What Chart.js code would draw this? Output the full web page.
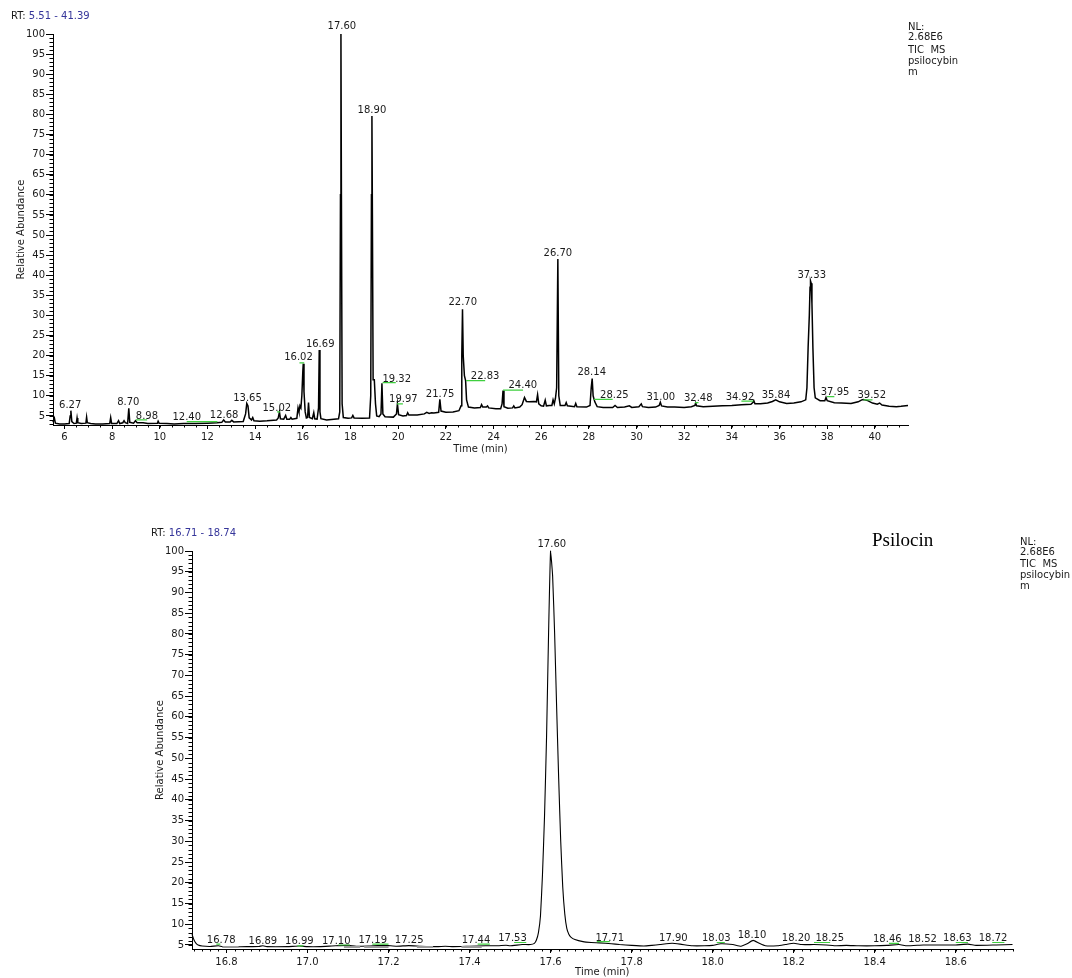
<!DOCTYPE html>
<html lang="en">
<head>
<meta charset="UTF-8">
<title>TIC MS psilocybin</title>
<script src="https://cdn.jsdelivr.net/npm/chart.js"></script>
<style>
  body { margin: 0; background: #fff; }
  #page { position: relative; width: 1072px; height: 978px; overflow: hidden; font-family: "DejaVu Sans", sans-serif; }
  canvas { position: absolute; left: 0; }
  .t { position: absolute; font-size: 10px; line-height: 12px; color: #1a1a1a; white-space: nowrap; }
  .t span { color: #35359a; }
  .name { position: absolute; font-family: "Liberation Serif", serif; font-size: 19px; line-height: 22px; color: #000; }
</style>
</head>
<body>
<div id="page">
  <canvas id="topChart" width="1072" height="460" style="top:0"></canvas>
  <canvas id="zoomChart" width="1072" height="498" style="top:480px"></canvas>

  <div class="t" style="left:11px;top:10px">RT: <span>5.51 - 41.39</span></div>
  <div class="t" style="left:908px;top:21px">NL:</div>
  <div class="t" style="left:908px;top:31px">2.68E6</div>
  <div class="t" style="left:908px;top:44px">TIC&nbsp; MS</div>
  <div class="t" style="left:908px;top:55px">psilocybin</div>
  <div class="t" style="left:908px;top:66px">m</div>

  <div class="name" style="left:872px;top:529px">Psilocin</div>

  <div class="t" style="left:151px;top:527px">RT: <span>16.71 - 18.74</span></div>
  <div class="t" style="left:1020px;top:536px">NL:</div>
  <div class="t" style="left:1020px;top:546px">2.68E6</div>
  <div class="t" style="left:1020px;top:558px">TIC&nbsp; MS</div>
  <div class="t" style="left:1020px;top:569px">psilocybin</div>
  <div class="t" style="left:1020px;top:580px">m</div>
</div>

<script>
// --- full run, 5.51 - 41.39 min : [time (min), relative abundance]
const topTrace = [
  [5.52, 3.4], [5.58, 4.4], [5.62, 3.2], [5.8, 3.0], [6.0, 3.0], [6.2, 3.1], [6.24, 5.0], [6.27, 6.3], [6.31, 3.6],
  [6.4, 3.1], [6.5, 3.2], [6.53, 4.5], [6.56, 3.3], [6.7, 3.1], [6.9, 3.2], [6.93, 4.7], [6.96, 3.3], [7.1, 3.1],
  [7.3, 3.0], [7.6, 3.0], [7.9, 3.1], [7.94, 4.6], [7.98, 3.1], [8.2, 3.1], [8.27, 3.8], [8.32, 3.1], [8.45, 3.3],
  [8.5, 3.8], [8.55, 3.3], [8.65, 3.1], [8.7, 6.9], [8.74, 3.4], [8.9, 3.2], [8.98, 3.8], [9.05, 3.3], [9.3, 3.3],
  [9.5, 3.1], [9.9, 3.2], [9.93, 3.7], [9.97, 3.2], [10.3, 3.1], [10.6, 3.0], [11.0, 3.1], [11.5, 3.1], [12.0, 3.2],
  [12.4, 3.3], [12.6, 3.4], [12.68, 4.0], [12.75, 3.5], [12.95, 3.5], [13.02, 3.9], [13.1, 3.5], [13.5, 3.6],
  [13.6, 5.5], [13.65, 8.1], [13.7, 7.5], [13.75, 4.5], [13.85, 4.0], [13.9, 4.6], [13.95, 3.8], [14.2, 3.7],
  [14.5, 3.8], [14.9, 4.0], [14.97, 4.5], [15.02, 6.0], [15.06, 4.3], [15.2, 4.2], [15.28, 5.1], [15.33, 4.2],
  [15.45, 4.2], [15.5, 4.6], [15.55, 4.2], [15.75, 4.4], [15.8, 7.0], [15.84, 6.0], [15.88, 7.5], [15.92, 7.0],
  [15.96, 10.0], [16.0, 16.0], [16.02, 18.0], [16.05, 11.0], [16.1, 6.0], [16.15, 4.5], [16.2, 4.6], [16.24, 8.3],
  [16.28, 4.6], [16.4, 4.3], [16.46, 5.8], [16.5, 4.3], [16.6, 4.2], [16.66, 7.0], [16.69, 21.4], [16.72, 6.0],
  [16.76, 4.3], [17.0, 4.0], [17.3, 4.2], [17.5, 4.3], [17.55, 6.0], [17.58, 60], [17.60, 100], [17.62, 60],
  [17.65, 8.0], [17.7, 4.6], [17.9, 4.4], [18.05, 4.5], [18.1, 5.1], [18.15, 4.5], [18.5, 4.4], [18.8, 4.5],
  [18.85, 10], [18.88, 60], [18.90, 79.6], [18.92, 55], [18.95, 14.0], [19.0, 14.0], [19.05, 8.0], [19.1, 5.0],
  [19.2, 4.8], [19.28, 5.5], [19.32, 13.1], [19.36, 5.5], [19.45, 4.8], [19.8, 4.7], [19.93, 5.5], [19.97, 8.0],
  [20.02, 5.3], [20.2, 5.0], [20.35, 5.1], [20.4, 5.8], [20.45, 5.2], [20.8, 5.2], [21.1, 5.5], [21.2, 5.9],
  [21.3, 5.6], [21.4, 5.8], [21.5, 5.7], [21.7, 5.9], [21.75, 9.1], [21.8, 6.2], [22.0, 5.9], [22.3, 6.0],
  [22.55, 6.3], [22.64, 7.5], [22.67, 20], [22.70, 31.5], [22.73, 20], [22.78, 15], [22.83, 13.8], [22.87, 9.0],
  [22.95, 7.2], [23.2, 7.0], [23.45, 7.1], [23.5, 7.8], [23.55, 7.2], [23.7, 7.2], [23.75, 7.5], [23.8, 7.0],
  [24.1, 6.8], [24.3, 6.8], [24.36, 8.0], [24.40, 11.3], [24.44, 7.3], [24.6, 6.9], [24.8, 7.0], [24.85, 7.5],
  [24.9, 7.0], [25.1, 7.2], [25.2, 7.8], [25.3, 9.6], [25.38, 8.6], [25.5, 8.5], [25.7, 8.6], [25.8, 8.5],
  [25.85, 10.3], [25.9, 8.0], [26.0, 7.5], [26.1, 7.4], [26.17, 8.9], [26.22, 7.5], [26.35, 7.6], [26.45, 7.6],
  [26.5, 9.0], [26.55, 8.0], [26.6, 9.4], [26.65, 12], [26.70, 44.0], [26.74, 10], [26.8, 7.6], [27.0, 7.6],
  [27.05, 8.3], [27.1, 7.5], [27.4, 7.3], [27.45, 8.1], [27.5, 7.3], [27.9, 7.2], [28.05, 7.6], [28.1, 12],
  [28.14, 14.3], [28.18, 10], [28.25, 8.5], [28.35, 7.3], [28.6, 7.1], [29.0, 7.1], [29.1, 7.6], [29.2, 7.1],
  [29.5, 7.2], [29.7, 7.5], [29.8, 7.1], [30.1, 7.3], [30.2, 8.0], [30.25, 7.3], [30.5, 7.1], [30.8, 7.2],
  [30.95, 7.6], [31.0, 8.4], [31.05, 7.5], [31.3, 7.2], [31.6, 7.2], [32.0, 7.1], [32.3, 7.3], [32.45, 7.6],
  [32.48, 8.2], [32.52, 7.5], [32.8, 7.3], [33.2, 7.4], [33.6, 7.5], [34.0, 7.6], [34.4, 7.8], [34.8, 7.9],
  [34.88, 8.3], [34.92, 8.8], [34.97, 8.0], [35.2, 8.0], [35.5, 8.2], [35.7, 8.6], [35.84, 9.0], [36.0, 8.5],
  [36.3, 8.1], [36.6, 8.2], [36.9, 8.5], [37.1, 9.0], [37.15, 12], [37.2, 22], [37.25, 30], [37.28, 37],
  [37.3, 38.6], [37.33, 38.0], [37.36, 33], [37.4, 22], [37.45, 12], [37.5, 9.5], [37.7, 8.8], [37.9, 8.8],
  [37.95, 9.6], [38.0, 8.8], [38.3, 8.3], [38.6, 8.2], [39.0, 8.1], [39.3, 8.5], [39.45, 9.0], [39.52, 9.1],
  [39.7, 8.8], [39.9, 8.2], [40.1, 7.9], [40.2, 8.2], [40.3, 7.7], [40.6, 7.4], [40.9, 7.3], [41.1, 7.4], [41.39, 7.6]
];

// peak labels: [text, time, abundance]
const topPeaks = [
  ['6.27', 6.24, 7.7], ['8.70', 8.68, 8.3], ['8.98', 9.46, 5.0], ['12.40', 11.13, 4.7], ['12.68', 12.70, 5.2],
  ['13.65', 13.68, 9.4], ['15.02', 14.91, 6.9], ['16.02', 15.82, 19.5], ['16.69', 16.73, 22.9],
  ['17.60', 17.64, 101.8], ['18.90', 18.90, 81.1], ['19.32', 19.94, 14.2], ['19.97', 20.22, 9.0],
  ['21.75', 21.76, 10.4], ['22.70', 22.71, 33.2], ['22.83', 23.65, 14.9], ['24.40', 25.23, 12.7],
  ['26.70', 26.70, 45.3], ['28.14', 28.12, 15.8], ['28.25', 29.07, 10.2], ['31.00', 31.02, 9.6],
  ['32.48', 32.59, 9.4], ['34.92', 34.34, 9.6], ['35.84', 35.85, 10.2], ['37.33', 37.35, 40.0],
  ['37.95', 38.33, 10.9], ['39.52', 39.87, 10.2]
];

// integration baselines: [from, to, abundance]
const topMarks = [
  [9.0, 9.47, 4.0], [11.13, 12.42, 3.6], [14.92, 15.05, 6.0], [15.86, 16.06, 18.2], [19.35, 19.9, 13.3],
  [19.95, 20.2, 8.0], [22.85, 23.65, 13.8], [24.4, 25.24, 11.4], [28.22, 29.0, 9.1], [32.45, 32.6, 8.3],
  [34.4, 34.9, 8.7], [37.99, 38.3, 9.8], [39.52, 39.9, 9.0]
];

const topXTicks = [6, 8, 10, 12, 14, 16, 18, 20, 22, 24, 26, 28, 30, 32, 34, 36, 38, 40];
const yTicks = [5, 10, 15, 20, 25, 30, 35, 40, 45, 50, 55, 60, 65, 70, 75, 80, 85, 90, 95, 100];

// --- zoom on psilocin, 16.71 - 18.74 min
const zoomTrace = [
  [16.715, 7.6], [16.72, 6.2], [16.725, 5.4], [16.73, 5.0], [16.74, 4.75], [16.76, 4.65], [16.78, 4.8],
  [16.79, 4.6], [16.82, 4.55], [16.85, 4.6], [16.88, 4.65], [16.89, 4.8], [16.9, 4.6], [16.95, 4.6],
  [16.98, 4.75], [17.0, 4.6], [17.03, 4.6], [17.06, 4.75], [17.08, 4.85], [17.1, 4.9], [17.12, 4.7],
  [17.15, 4.75], [17.19, 4.9], [17.22, 4.7], [17.25, 4.85], [17.28, 4.7], [17.32, 4.6], [17.34, 4.7],
  [17.36, 4.6], [17.4, 4.7], [17.44, 4.8], [17.47, 4.8], [17.49, 4.95], [17.5, 4.8], [17.53, 5.1], [17.55, 5.1],
  [17.56, 5.4], [17.565, 6.2], [17.57, 8], [17.575, 12], [17.58, 22], [17.585, 36], [17.59, 55], [17.595, 80],
  [17.60, 100], [17.605, 94], [17.61, 80], [17.615, 62], [17.62, 45], [17.625, 30], [17.63, 19], [17.635, 12.5],
  [17.64, 9], [17.645, 7.6], [17.65, 6.9], [17.66, 6.3], [17.68, 5.8], [17.7, 5.6], [17.72, 5.5], [17.75, 5.3],
  [17.77, 5.1], [17.8, 4.9], [17.83, 4.75], [17.85, 4.9], [17.87, 5.1], [17.9, 5.4], [17.92, 5.2], [17.95, 4.8],
  [17.98, 4.8], [18.0, 4.9], [18.02, 5.3], [18.05, 5.1], [18.07, 4.7], [18.085, 5.3], [18.1, 6.1], [18.115, 5.4],
  [18.13, 4.8], [18.16, 4.8], [18.18, 5.1], [18.2, 5.4], [18.22, 5.1], [18.25, 5.1], [18.28, 5.0], [18.3, 4.8],
  [18.33, 4.9], [18.36, 4.8], [18.4, 4.8], [18.43, 4.9], [18.46, 5.1], [18.48, 4.8], [18.52, 5.0], [18.56, 5.0],
  [18.6, 5.0], [18.63, 5.2], [18.65, 4.9], [18.7, 5.0], [18.74, 5.1]
];

const zoomPeaks = [
  ['16.78', 16.787, 6.1], ['16.89', 16.89, 5.9], ['16.99', 16.98, 5.9], ['17.10', 17.071, 5.9],
  ['17.19', 17.161, 6.1], ['17.25', 17.251, 6.1], ['17.44', 17.416, 6.1], ['17.53', 17.506, 6.7],
  ['17.60', 17.603, 101.7], ['17.71', 17.746, 6.7], ['17.90', 17.903, 6.7], ['18.03', 18.009, 6.7],
  ['18.10', 18.097, 7.4], ['18.20', 18.206, 6.7], ['18.25', 18.289, 6.7], ['18.46', 18.431, 6.4],
  ['18.52', 18.518, 6.4], ['18.63', 18.604, 6.7], ['18.72', 18.692, 6.7]
];

const zoomMarks = [
  [16.775, 16.785, 5.2], [16.975, 16.99, 4.8], [17.076, 17.105, 5.0], [17.16, 17.2, 5.2], [17.42, 17.45, 5.2],
  [17.51, 17.54, 5.6], [17.714, 17.746, 5.8], [18.01, 18.03, 5.6], [18.25, 18.29, 5.6], [18.435, 18.46, 5.4],
  [18.60, 18.63, 5.6], [18.69, 18.72, 5.6]
];
const zoomGrey = [
  [16.79, 16.83, 4.5], [17.09, 17.13, 4.5], [17.14, 17.2, 4.5], [17.27, 17.31, 4.5], [17.38, 17.43, 4.5]
];

const zoomXTicks = [16.8, 17.0, 17.2, 17.4, 17.6, 17.8, 18.0, 18.2, 18.4, 18.6];

const FONT = '"DejaVu Sans", sans-serif';
const INK = '#1a1a1a';

// small ticks, peak labels and baseline marks
const overlay = {
  id: 'overlay',
  afterDraw(chart, args, o) {
    const { ctx, chartArea: a, scales: { x, y } } = chart;
    ctx.save();
    ctx.strokeStyle = '#000';
    ctx.lineWidth = 1;
    ctx.beginPath();
    for (let i = Math.ceil(x.min / o.xMinor - 1e-6); i * o.xMinor <= x.max + 1e-9; i++) {
      const px = Math.round(x.getPixelForValue(i * o.xMinor)) + 0.5;
      ctx.moveTo(px, a.bottom);
      ctx.lineTo(px, a.bottom + 2.5);
    }
    for (let i = Math.ceil(y.min / o.yMinor - 1e-6); i * o.yMinor <= y.max + 1e-9; i++) {
      const py = Math.round(y.getPixelForValue(i * o.yMinor)) + 0.5;
      ctx.moveTo(a.left - 3.5, py);
      ctx.lineTo(a.left, py);
    }
    ctx.stroke();

    ctx.strokeStyle = '#9a9a9a';
    ctx.lineWidth = 2;
    ctx.beginPath();
    o.grey.forEach(([x1, x2, v]) => {
      ctx.moveTo(x.getPixelForValue(x1), y.getPixelForValue(v));
      ctx.lineTo(x.getPixelForValue(x2), y.getPixelForValue(v));
    });
    ctx.stroke();

    ctx.strokeStyle = '#3fcf3f';
    ctx.lineWidth = 1.2;
    ctx.beginPath();
    o.marks.forEach(([x1, x2, v]) => {
      ctx.moveTo(x.getPixelForValue(x1), y.getPixelForValue(v));
      ctx.lineTo(x.getPixelForValue(x2), y.getPixelForValue(v));
    });
    ctx.stroke();

    ctx.fillStyle = INK;
    ctx.font = '10px ' + FONT;
    ctx.textAlign = 'center';
    ctx.textBaseline = 'middle';
    o.peaks.forEach(([txt, t, v]) => {
      ctx.fillText(txt, x.getPixelForValue(t), y.getPixelForValue(v));
    });
    ctx.restore();
  }
};

function drawTrace(id, c) {
  return new Chart(document.getElementById(id), {
    type: 'line',
    data: {
      datasets: [{
        data: c.trace.map(p => ({ x: p[0], y: p[1] })),
        borderColor: '#000',
        borderWidth: c.lineWidth,
        pointRadius: 0,
        tension: c.tension,
        fill: false,
        clip: false
      }]
    },
    options: {
      responsive: false,
      animation: false,
      events: [],
      layout: { padding: c.padding },
      plugins: {
        legend: { display: false },
        tooltip: { enabled: false },
        overlay: { peaks: c.peaks, marks: c.marks, grey: c.grey, xMinor: c.xMinor, yMinor: 1 }
      },
      scales: {
        x: {
          type: 'linear',
          min: c.xMin,
          max: c.xMax,
          afterBuildTicks: s => { s.ticks = c.xTicks.map(v => ({ value: v })); },
          afterFit: s => { s.height = c.xHeight; },
          border: { color: '#000', width: 1 },
          grid: { drawOnChartArea: false, tickLength: 4, tickColor: '#000' },
          ticks: {
            autoSkip: false, maxRotation: 0, padding: c.xPad, color: INK,
            font: { family: FONT, size: 10 },
            callback: v => c.xFmt(v)
          },
          title: {
            display: true, text: 'Time (min)', color: INK,
            font: { family: FONT, size: 10 },
            padding: { top: 0, bottom: c.xTitlePad }
          }
        },
        y: {
          min: c.yMin,
          max: 100,
          afterBuildTicks: s => { s.ticks = yTicks.map(v => ({ value: v })); },
          afterFit: s => { s.width = c.yWidth; },
          border: { color: '#000', width: 1 },
          grid: { drawOnChartArea: false, tickLength: 7, tickColor: '#000' },
          ticks: {
            autoSkip: false, padding: 1, color: INK,
            font: { family: FONT, size: 10 }
          },
          title: {
            display: true, text: 'Relative Abundance', color: INK,
            font: { family: FONT, size: 10 },
            padding: { top: 4, bottom: 0 }
          }
        }
      }
    },
    plugins: [overlay]
  });
}

drawTrace('topChart', {
  trace: topTrace, peaks: topPeaks, marks: topMarks, grey: [],
  xMin: 5.52, xMax: 41.39, yMin: 2.74, xTicks: topXTicks, xMinor: 0.5,
  xFmt: v => String(v), xHeight: 35, xPad: 2, xTitlePad: 5, yWidth: 42,
  padding: { left: 11, top: 34, right: 164, bottom: 0 },
  lineWidth: 1.5, tension: 0
});

drawTrace('zoomChart', {
  trace: zoomTrace, peaks: zoomPeaks, marks: zoomMarks, grey: zoomGrey,
  xMin: 16.715, xMax: 18.74, yMin: 4.03, xTicks: zoomXTicks, xMinor: 0.02,
  xFmt: v => v.toFixed(1), xHeight: 29, xPad: 3, xTitlePad: 0, yWidth: 42,
  padding: { left: 150, top: 71, right: 59.5, bottom: 0 },
  lineWidth: 1.1, tension: 0.15
});
</script>
</body>
</html>
